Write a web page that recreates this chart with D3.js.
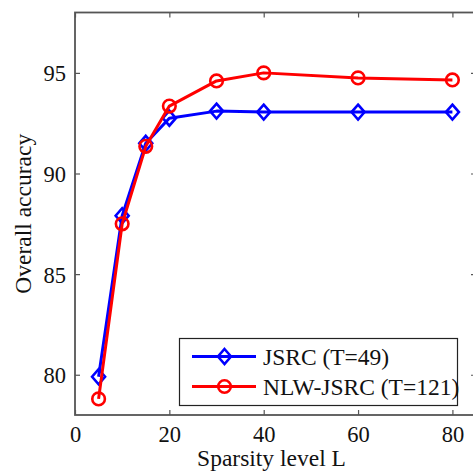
<!DOCTYPE html>
<html>
<head>
<meta charset="utf-8">
<script src="https://cdn.jsdelivr.net/npm/d3@7"></script>
<style>
  html, body { margin: 0; padding: 0; background: #fff; }
  svg { display: block; }
  text { font-family: "Liberation Serif", "Times New Roman", serif; fill: #111; }
</style>
</head>
<body>
<svg id="chart" width="473" height="472"></svg>
<script>
// Sparsity levels tested
const sparsity = [5, 10, 15, 20, 30, 40, 60, 80];
// Overall accuracy (%) for each method
const jsrc    = [79.9, 87.9, 91.5, 92.75, 93.1, 93.05, 93.05, 93.05];
const nlwJsrc = [78.8, 87.5, 91.35, 93.35, 94.6, 95.0, 94.75, 94.65];
// Axis ticks
const xTicks = [0, 20, 40, 60, 80];
const yTicks = [80, 85, 90, 95];
// Series definitions
const seriesNames = ["JSRC (T=49)", "NLW-JSRC (T=121)"];
const seriesColors = ["#0000ff", "#ff0000"];
const seriesMarkers = ["diamond", "circle"];

const svg = d3.select("#chart");
const plotL = 75, plotR = 476, plotT = 12.5, plotB = 415;

const x = d3.scaleLinear().domain([0, 85]).range([plotL, plotR]);
const y = d3.scaleLinear().domain([78, 98]).range([plotB, plotT]);

const axisColor = "#555";
const tickLen = 5;

// Plot box
svg.append("rect")
  .attr("x", plotL).attr("y", plotT)
  .attr("width", plotR - plotL).attr("height", plotB - plotT)
  .attr("fill", "none").attr("stroke", axisColor).attr("stroke-width", 1.8);

// Bottom axis (inward ticks)
const xAxis = svg.append("g").attr("transform", `translate(0,${plotB})`)
  .call(d3.axisBottom(x).tickValues(xTicks).tickSizeInner(-tickLen).tickSizeOuter(0).tickPadding(11));
// Top mirror ticks
const xAxisTop = svg.append("g").attr("transform", `translate(0,${plotT})`)
  .call(d3.axisTop(x).tickValues(xTicks).tickSizeInner(-tickLen).tickSizeOuter(0).tickFormat(""));
// Left axis
const yAxis = svg.append("g").attr("transform", `translate(${plotL},0)`)
  .call(d3.axisLeft(y).tickValues(yTicks).tickSizeInner(-tickLen).tickSizeOuter(0).tickPadding(9));
// Right mirror ticks
const yAxisRight = svg.append("g").attr("transform", `translate(${plotR},0)`)
  .call(d3.axisRight(y).tickValues(yTicks).tickSizeInner(-tickLen).tickSizeOuter(0).tickFormat(""));

[xAxis, xAxisTop, yAxis, yAxisRight].forEach(g => {
  g.select(".domain").remove();
  g.selectAll(".tick line").attr("stroke", axisColor).attr("stroke-width", 1.2);
  g.selectAll(".tick text")
    .attr("font-family", "Liberation Serif, Times New Roman, serif")
    .attr("font-size", 22.5).attr("fill", "#111");
});
yAxis.selectAll(".tick text").attr("dy", "0.35em");
xAxis.selectAll(".tick text").attr("dy", "0.71em");

// Axis titles
svg.append("text")
  .attr("x", (plotL + plotR) / 2 - 4).attr("y", 466)
  .attr("text-anchor", "middle").attr("font-size", 23.5)
  .text("Sparsity level L");
svg.append("text")
  .attr("transform", `translate(31,${(plotT + plotB) / 2}) rotate(-90)`)
  .attr("text-anchor", "middle").attr("font-size", 23.5)
  .text("Overall accuracy");

const line = d3.line().x(d => x(d[0])).y(d => y(d[1]));

function drawMarker(g, type, cx, cy, color) {
  if (type === "diamond") {
    const h = 7.5, w = 6.5;
    g.append("path")
      .attr("d", `M${cx},${cy - h}L${cx + w},${cy}L${cx},${cy + h}L${cx - w},${cy}Z`)
      .attr("fill", "none").attr("stroke", color).attr("stroke-width", 2.6);
  } else {
    g.append("circle")
      .attr("cx", cx).attr("cy", cy).attr("r", 6.3)
      .attr("fill", "none").attr("stroke", color).attr("stroke-width", 2.6);
  }
}

const allSeries = [jsrc, nlwJsrc];
allSeries.forEach((vals, i) => {
  const pts = sparsity.map((s, j) => [s, vals[j]]);
  const g = svg.append("g");
  g.append("path")
    .attr("d", line(pts))
    .attr("fill", "none").attr("stroke", seriesColors[i])
    .attr("stroke-width", 3).attr("stroke-linejoin", "round");
  pts.forEach(p => drawMarker(g, seriesMarkers[i], x(p[0]), y(p[1]), seriesColors[i]));
});

// Legend
const lg = svg.append("g");
const lx0 = 179.5, ly0 = 338.5, lx1 = 457.5, ly1 = 405.5;
lg.append("rect")
  .attr("x", lx0).attr("y", ly0).attr("width", lx1 - lx0).attr("height", ly1 - ly0)
  .attr("fill", "#fff").attr("stroke", "#222").attr("stroke-width", 1.2);
const rowY = [356.5, 386.5];
seriesNames.forEach((name, i) => {
  lg.append("line")
    .attr("x1", 192).attr("x2", 256).attr("y1", rowY[i]).attr("y2", rowY[i])
    .attr("stroke", seriesColors[i]).attr("stroke-width", 3);
  drawMarker(lg, seriesMarkers[i], 224.5, rowY[i], seriesColors[i]);
  lg.append("text")
    .attr("x", 263).attr("y", rowY[i]).attr("dy", "0.35em")
    .attr("font-size", 23.5)
    .text(name);
});
</script>
</body>
</html>
